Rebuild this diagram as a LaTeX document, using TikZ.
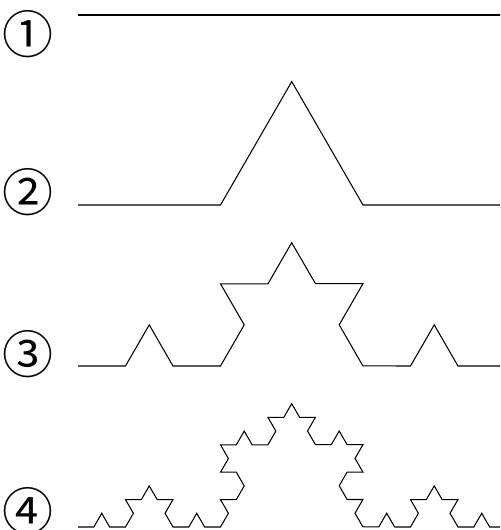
\documentclass[tikz,border=0pt]{standalone}
\usepackage{fontspec}
\newfontfamily\cjk{Noto Sans CJK JP}
\usetikzlibrary{decorations.fractals}
\tikzset{
  koch/.style={black, line width=0.6pt, decoration={Koch snowflake}},
  num/.style={font=\cjk\fontsize{29}{29}\selectfont, inner sep=0pt, anchor=center},
}
\begin{document}
\begin{tikzpicture}[x=0.02cm,y=-0.02cm]
  \useasboundingbox (0,0) rectangle (500,530);
  \clip (0,0) rectangle (500,530);

  % step numbers
  \node[num] (lbl1) at (28,34) {①};
  \node[num] (lbl2) at (28,192) {②};
  \node[num] (lbl3) at (28,354) {③};
  \node[num] (lbl4) at (28,511) {④};

  % end points of each curve
  \foreach \i/\y in {1/15,2/205,3/366,4/527}{
    \coordinate (s\i) at (78,\y);
    \coordinate (e\i) at (505.5,\y);
  }

  % Koch curve, steps 0 to 3
  \draw[koch] (s1) -- (e1);
  \draw[koch] decorate{(s2) -- (e2)};
  \draw[koch] decorate{decorate{(s3) -- (e3)}};
  \draw[koch] decorate{decorate{decorate{(s4) -- (e4)}}};
\end{tikzpicture}
\end{document}
